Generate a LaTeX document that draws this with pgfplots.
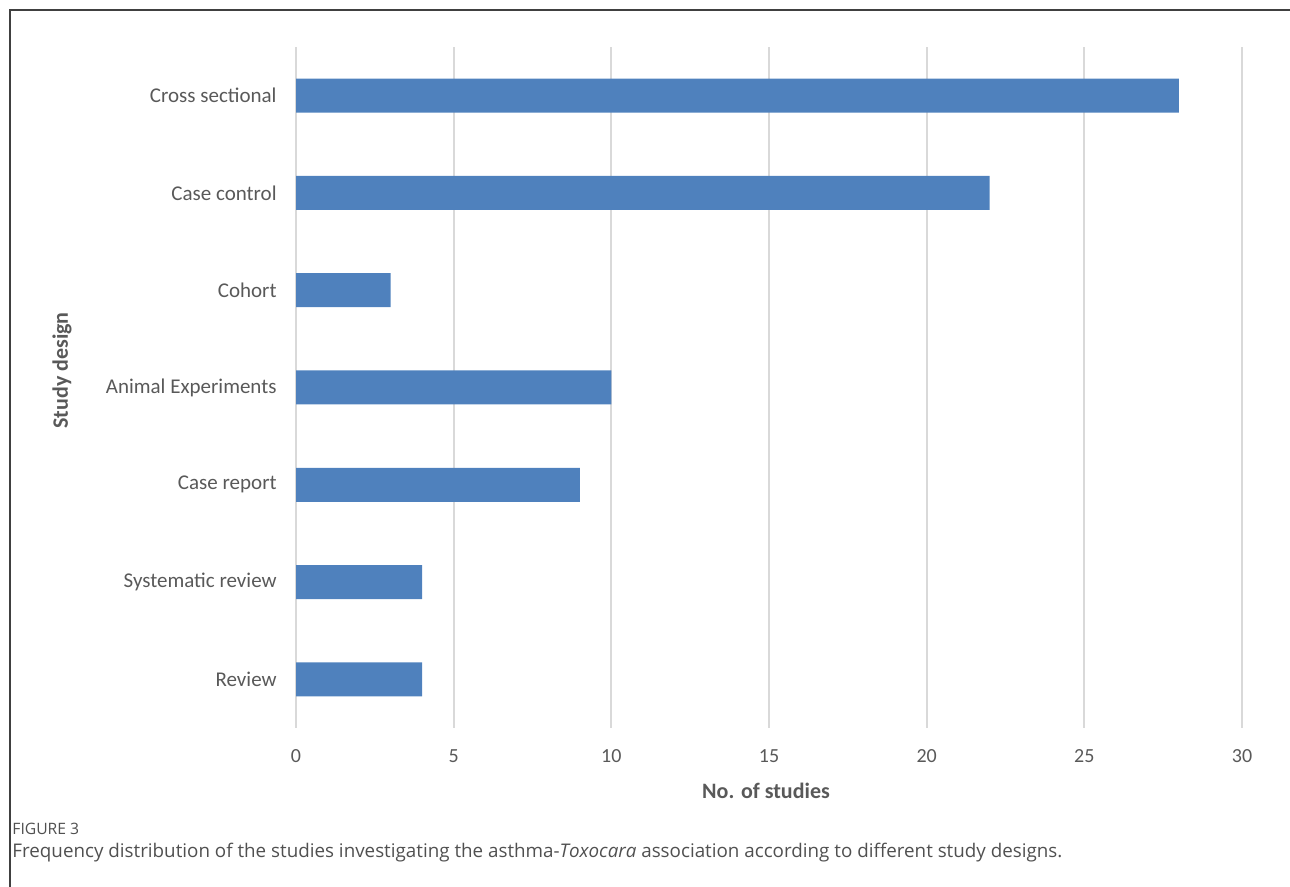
\documentclass[border=0pt]{standalone}
\usepackage{pgfplots}
\pgfplotsset{compat=1.18}
\usepackage{fontspec}
\setmainfont{Carlito}
\newfontfamily\capfont{Open Sans}
\definecolor{barblue}{RGB}{79,129,189}
\definecolor{txtgray}{RGB}{89,89,89}
\definecolor{gridgray}{RGB}{217,217,217}
\definecolor{framegray}{RGB}{64,64,64}
\definecolor{capgray}{RGB}{80,80,80}
\begin{document}
\begin{tikzpicture}[x=1pt,y=1pt]
\useasboundingbox (0,0) rectangle (645,443.5);
\draw[framegray, line width=0.7pt] (5,0) -- (5,438.5) -- (645,438.5);
\begin{axis}[
  at={(148pt,79.5pt)}, anchor=south west,
  scale only axis, width=473pt, height=340.5pt,
  xbar, bar width=17pt,
  xmin=0, xmax=30, ymin=-0.5, ymax=6.5,
  xtick={0,5,...,30},
  ytick={0,...,6},
  yticklabels={Review,Systematic review,Case report,Animal Experiments,Cohort,Case control,Cross sectional},
  xmajorgrids, grid style={gridgray, line width=0.9pt},
  axis line style={draw=none},
  major tick length=0pt,
  tick label style={txtgray},
  xticklabel style={font=\fontsize{10}{12}\selectfont, anchor=center, yshift=-14pt},
  yticklabel style={font=\fontsize{10.5}{12}\selectfont, anchor=east, inner sep=0pt, xshift=-9.5pt},
  /pgf/number format/assume math mode=true,
]
\addplot[fill=barblue, draw=none] coordinates {(4,0) (4,1) (9,2) (10,3) (3,4) (22,5) (28,6)};
\end{axis}
\node[rotate=90, txtgray, font=\fontsize{11}{13}\selectfont\bfseries] at (31,258.25) {Study design};
\node[txtgray, font=\fontsize{11}{13}\selectfont\bfseries] at (383,48) {No. of studies};
\node[anchor=west, inner sep=0pt, capgray, font=\capfont\fontsize{7.85}{9}\selectfont] at (6,29) {FIGURE 3};
\node[anchor=west, inner sep=0pt, capgray, font=\capfont\fontsize{9.4}{11}\selectfont] at (6,17) {Frequency distribution of the studies investigating the asthma-\textit{Toxocara} association according to different study designs.};
\end{tikzpicture}
\end{document}
